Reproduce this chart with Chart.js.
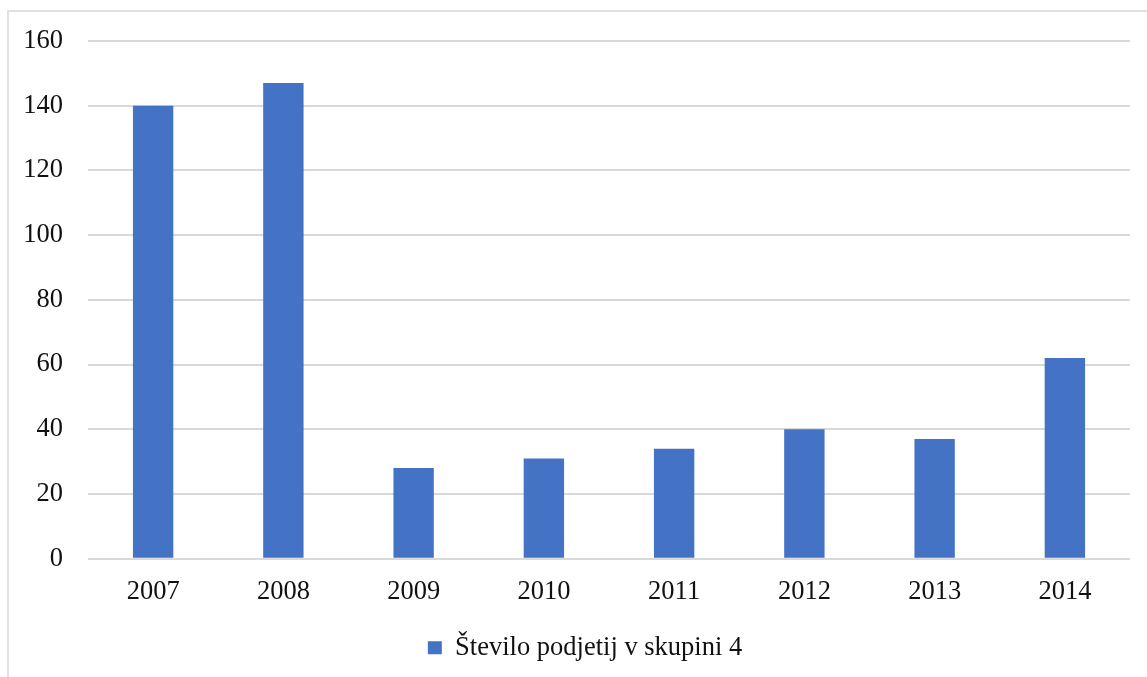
<!DOCTYPE html>
<html>
<head>
<meta charset="utf-8">
<script src="https://cdn.jsdelivr.net/npm/chart.js@4"></script>
<style>
  html, body { margin: 0; padding: 0; background: #fff; }
  #okvir { position: absolute; left: 7px; top: 10px; width: 1160px; height: 700px;
           border-left: 2px solid #e0e0e0; border-top: 2px solid #e0e0e0; }
  #graf { position: absolute; left: 0; top: 0; }
</style>
</head>
<body>
<div id="okvir"></div>
<canvas id="graf" width="1147" height="677"></canvas>
<script>
// podatki
var leta = ['2007', '2008', '2009', '2010', '2011', '2012', '2013', '2014'];
var steviloPodjetij = [140, 147, 28, 31, 34, 40, 37, 62];
var oznakeY = [0, 20, 40, 60, 80, 100, 120, 140, 160];

var pisava = { family: '"Liberation Serif", "Times New Roman", serif', size: 26.5 };

// legenda malo bolj desno
var zamikLegende = {
    id: 'zamikLegende',
    afterLayout: function(chart) {
        chart.legend.left += 40;
    }
};

var graf = new Chart(document.getElementById('graf'), {
    type: 'bar',
    data: {
        labels: leta,
        datasets: [{
            label: 'Število podjetij v skupini 4',
            data: steviloPodjetij,
            backgroundColor: '#4472C4',
            barPercentage: 0.31,
            categoryPercentage: 1
        }]
    },
    options: {
        responsive: false,
        animation: false,
        layout: { padding: { top: 26, right: 17, left: 0, bottom: 6 } },
        scales: {
            x: {
                grid: { display: false, drawTicks: false },
                border: { display: false },
                ticks: { color: '#111', font: pisava, padding: 17 }
            },
            y: {
                min: 0,
                max: 160,
                afterBuildTicks: function(os) {
                    os.ticks = oznakeY.map(function(v) { return { value: v }; });
                },
                afterFit: function(os) { os.width = 88; },
                grid: { color: '#d9d9d9', lineWidth: 2, drawTicks: false },
                border: { display: false },
                ticks: { color: '#111', font: pisava, padding: 25 }
            }
        },
        plugins: {
            legend: {
                position: 'bottom',
                labels: {
                    color: '#111',
                    font: pisava,
                    boxWidth: 14,
                    boxHeight: 13,
                    padding: 10
                }
            },
            tooltip: { enabled: false }
        }
    },
    plugins: [zamikLegende]
});
</script>
</body>
</html>
